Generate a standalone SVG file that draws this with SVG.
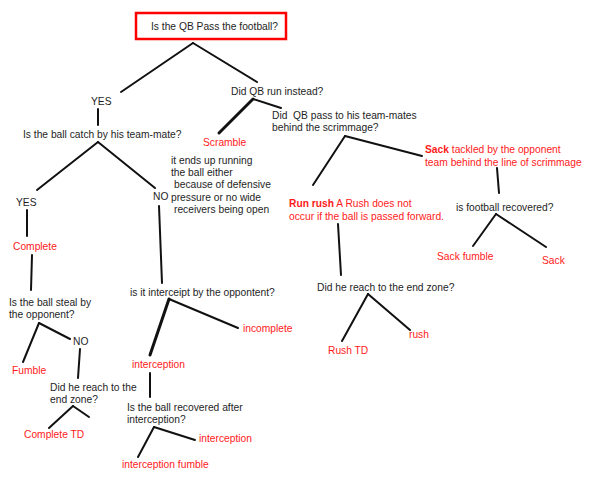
<svg xmlns="http://www.w3.org/2000/svg" width="590" height="486" viewBox="0 0 590 486">
<style>
text{font-family:"Liberation Sans",Arial,sans-serif;font-size:10.25px;fill:#1e1e1e}
.r{fill:#ff1a1a}
.b{font-weight:bold}
.pre{white-space:pre}
#connectors line{stroke:#111;stroke-width:2;stroke-linecap:round}
.t{stroke-width:3!important}
</style>
<rect width="590" height="486" fill="#fff"/>
<g id="connectors">
<line x1="193" y1="43" x2="121" y2="92"/>
<line x1="193" y1="43" x2="257" y2="82"/>
<line x1="98" y1="109" x2="98" y2="125"/>
<line x1="98" y1="142" x2="37" y2="190"/>
<line x1="98" y1="142" x2="155" y2="188"/>
<line x1="27" y1="210" x2="27" y2="236"/>
<line x1="159" y1="206" x2="162" y2="283"/>
<line class="t" x1="253" y1="99" x2="219" y2="133"/>
<line x1="253" y1="99" x2="281" y2="108"/>
<line x1="345" y1="136" x2="313" y2="185"/>
<line x1="345" y1="136" x2="422" y2="156"/>
<line x1="497" y1="168" x2="499" y2="193"/>
<line x1="496" y1="214" x2="473" y2="246"/>
<line x1="496" y1="214" x2="546" y2="247"/>
<line x1="338" y1="224" x2="341" y2="275"/>
<line x1="368" y1="294" x2="342" y2="341"/>
<line x1="368" y1="294" x2="410" y2="330"/>
<line x1="32" y1="255" x2="31" y2="290"/>
<line x1="39" y1="323" x2="23" y2="362"/>
<line x1="39" y1="323" x2="70" y2="339"/>
<line x1="80" y1="349" x2="78" y2="378"/>
<line x1="73" y1="406" x2="49" y2="428"/>
<line x1="73" y1="406" x2="89" y2="417"/>
<line class="t" x1="169" y1="299" x2="150" y2="355"/>
<line x1="169" y1="299" x2="238" y2="328"/>
<line x1="150" y1="373" x2="150" y2="397"/>
<line x1="154" y1="427" x2="138" y2="457"/>
<line x1="154" y1="427" x2="195" y2="440"/>
</g>
<g id="root">
<rect x="136" y="13" width="150" height="26" fill="none" stroke="#f00" stroke-width="2.5"/>
<text x="151" y="30">Is the QB Pass the football?</text>
</g>
<g id="yes1"><text x="91" y="105">YES</text></g>
<g id="catch"><text x="23" y="138">Is the ball catch by his team-mate?</text></g>
<g id="yes2"><text x="16" y="206">YES</text></g>
<g id="no1"><text x="153" y="200">NO</text></g>
<g id="note">
<text x="171" y="164">it ends up running</text>
<text x="171" y="176">the ball either</text>
<text x="174" y="188">because of defensive</text>
<text x="171" y="201">pressure or no wide</text>
<text x="174" y="213">receivers being open</text>
</g>
<g id="runinstead"><text x="231" y="95">Did QB run instead?</text></g>
<g id="scramble"><text class="r" x="203" y="146">Scramble</text></g>
<g id="passbehind">
<text class="pre" x="272" y="119">Did  QB pass to his team-mates</text>
<text x="272" y="131">behind the scrimmage?</text>
</g>
<g id="sack">
<text class="r" x="425" y="153"><tspan class="b r">Sack</tspan> tackled by the opponent</text>
<text class="r" x="425" y="166">team behind the line of scrimmage</text>
</g>
<g id="recovered"><text x="456" y="211">is football recovered?</text></g>
<g id="sackfumble"><text class="r" x="437" y="260">Sack fumble</text></g>
<g id="sack2"><text class="r" x="542" y="264">Sack</text></g>
<g id="runrush">
<text class="r" x="289" y="207"><tspan class="b r">Run rush</tspan> A Rush does not</text>
<text class="r" x="289" y="220">occur if the ball is passed forward.</text>
</g>
<g id="endzone1"><text x="317" y="291">Did he reach to the end zone?</text></g>
<g id="rush"><text class="r" x="409" y="338">rush</text></g>
<g id="rushtd"><text class="r" x="328" y="354">Rush TD</text></g>
<g id="complete"><text class="r" x="13" y="250">Complete</text></g>
<g id="steal">
<text x="9" y="306">Is the ball steal by</text>
<text x="9" y="318">the opponent?</text>
</g>
<g id="no2"><text x="73" y="345">NO</text></g>
<g id="fumble"><text class="r" x="12" y="374">Fumble</text></g>
<g id="endzone2">
<text x="50" y="391">Did he reach to the</text>
<text x="50" y="403">end zone?</text>
</g>
<g id="completetd"><text class="r" x="24" y="438">Complete TD</text></g>
<g id="intercept"><text x="130" y="296">is it interceipt by the oppontent?</text></g>
<g id="incomplete"><text class="r" x="243" y="332">incomplete</text></g>
<g id="interception1"><text class="r" x="132" y="368">interception</text></g>
<g id="recoveredafter">
<text x="127" y="411">Is the ball recovered after</text>
<text x="127" y="423">interception?</text>
</g>
<g id="interception2"><text class="r" x="199" y="442">interception</text></g>
<g id="interceptionfumble"><text class="r" x="122" y="468">interception fumble</text></g>
</svg>
